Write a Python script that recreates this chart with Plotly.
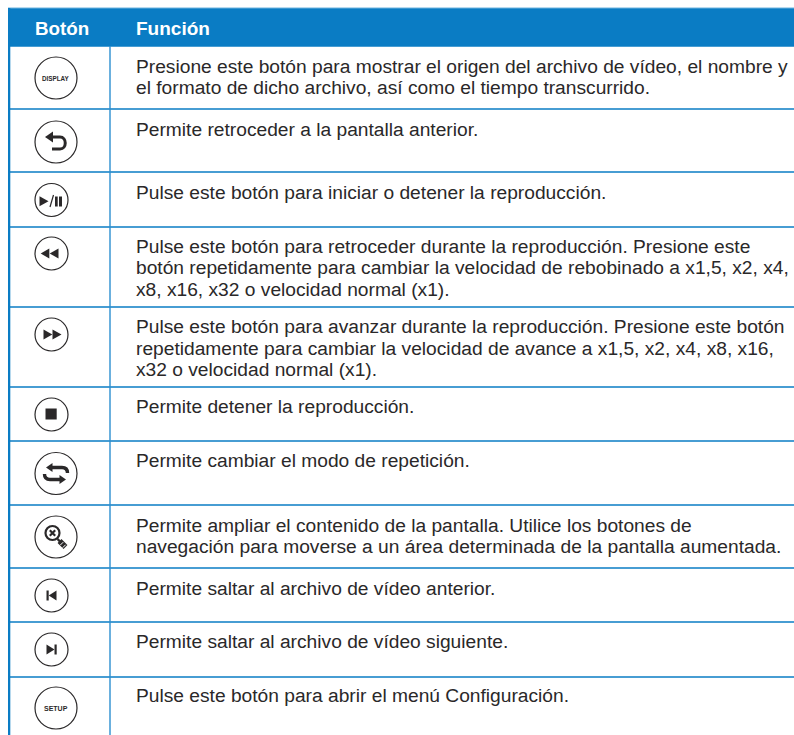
import plotly.graph_objects as go

header_labels = ["Botón", "Función"]
function_lines = [
    ["Presione este botón para mostrar el origen del archivo de vídeo, el nombre y",
     "el formato de dicho archivo, así como el tiempo transcurrido."],
    ["Permite retroceder a la pantalla anterior."],
    ["Pulse este botón para iniciar o detener la reproducción."],
    ["Pulse este botón para retroceder durante la reproducción. Presione este",
     "botón repetidamente para cambiar la velocidad de rebobinado a x1,5, x2, x4,",
     "x8, x16, x32 o velocidad normal (x1)."],
    ["Pulse este botón para avanzar durante la reproducción. Presione este botón",
     "repetidamente para cambiar la velocidad de avance a x1,5, x2, x4, x8, x16,",
     "x32 o velocidad normal (x1)."],
    ["Permite detener la reproducción."],
    ["Permite cambiar el modo de repetición."],
    ["Permite ampliar el contenido de la pantalla. Utilice los botones de",
     "navegación para moverse a un área determinada de la pantalla aumentada."],
    ["Permite saltar al archivo de vídeo anterior."],
    ["Permite saltar al archivo de vídeo siguiente."],
    ["Pulse este botón para abrir el menú Configuración."],
]
button_icons = ["display", "back", "playpause", "rewind", "forward", "stop",
                "repeat", "zoom", "prev", "next", "setup"]

W, H = 794, 735
BLUE = "#0a7cc4"
INK = "#2a2829"
row_rules = [46, 109, 172, 227, 307, 387, 441, 505, 568, 622, 677]
first_line_y = [66.6, 129.3, 192.6, 246.6, 326.9, 406.9, 460.9, 525.3, 588.6, 641.9, 695.3]
icon_cy = [78, 142, 200, 253.5, 334.5, 414.5, 473.5, 537, 595.5, 649.5, 708]
icon_r = [21, 21, 16.5, 16.5, 16.5, 16.5, 21, 21, 16.5, 16.5, 21]
LINE_H = 21.2
TEXT_X = 134.5

shapes, annotations = [], []


def rect(x0, y0, x1, y1, color):
    shapes.append(dict(type="rect", x0=x0, y0=y0, x1=x1, y1=y1,
                       fillcolor=color, line_width=0, layer="above"))


def poly(points, color=INK, cx=0, cy=0):
    d = "M" + " L".join(f"{cx+px},{cy+py}" for px, py in points) + " Z"
    shapes.append(dict(type="path", path=d, fillcolor=color, line_width=0, layer="above"))


def stroke(d, width, color=INK):
    shapes.append(dict(type="path", path=d, line=dict(color=color, width=width),
                       fillcolor="rgba(0,0,0,0)", layer="above"))


def label(x, y, text, size, color=INK, bold=False, anchor="left"):
    annotations.append(dict(x=x, y=y, text=f"<b>{text}</b>" if bold else text,
                            xref="x", yref="y", showarrow=False, xanchor=anchor,
                            yanchor="middle", borderpad=0,
                            font=dict(family="Liberation Sans", size=size, color=color)))


def circle(cx, cy, r, width=1.2, color=INK, fill="#ffffff"):
    shapes.append(dict(type="circle", x0=cx-r, x1=cx+r, y0=cy-r, y1=cy+r,
                       line=dict(color=color, width=width), fillcolor=fill, layer="above"))


def draw_icon(kind, cx, cy):
    if kind == "display":
        label(cx, cy, "DISPLAY", 6.3, bold=True, anchor="center")
    elif kind == "setup":
        label(cx, cy, "SETUP", 7, bold=True, anchor="center")
    elif kind == "back":
        poly([(-11, -5), (-3, -10.5), (-3, 0.5)], cx=cx, cy=cy)
        stroke(f"M{cx-4},{cy-5} L{cx+4},{cy-5} C{cx+11},{cy-5} {cx+11},{cy+7} {cx+4},{cy+7} L{cx-4},{cy+7}", 3)
    elif kind == "playpause":
        poly([(-12, -3.7), (-3, 1.3), (-12, 6.3)], cx=cx, cy=cy)
        stroke(f"M{cx-1.5},{cy+7} L{cx+2},{cy-5}", 1.2)
        rect(cx+3.5, cy-3.5, cx+6.2, cy+6.5, INK)
        rect(cx+7.5, cy-3.5, cx+10.5, cy+6.5, INK)
    elif kind == "rewind":
        poly([(-10.8, 0), (-2.2, -5), (-2.2, 5)], cx=cx, cy=cy)
        poly([(-1.8, 0), (7, -5), (7, 5)], cx=cx, cy=cy)
    elif kind == "forward":
        poly([(-8, -5), (-8, 5), (0.8, 0)], cx=cx, cy=cy)
        poly([(1, -5), (1, 5), (10, 0)], cx=cx, cy=cy)
    elif kind == "stop":
        rect(cx-6, cy-6, cx+5.2, cy+5, INK)
    elif kind == "prev":
        rect(cx-5, cy-5, cx-2.8, cy+5, INK)
        poly([(-2.8, 0), (5, -5), (5, 5)], cx=cx, cy=cy)
    elif kind == "next":
        poly([(-5, -5), (-5, 5), (3, 0)], cx=cx, cy=cy)
        rect(cx+3, cy-5, cx+5.2, cy+5, INK)
    elif kind == "repeat":
        poly([(-10, -6), (-3.5, -10.5), (-3.5, -1.5)], cx=cx, cy=cy)
        stroke(f"M{cx-4},{cy-6} L{cx+6},{cy-6} C{cx+10},{cy-6} {cx+11.5},{cy-4} {cx+11.5},{cy-0.5}", 3.4)
        stroke(f"M{cx-11.5},{cy+0.5} C{cx-11.5},{cy+4} {cx-10},{cy+6} {cx-6},{cy+6} L{cx+4},{cy+6}", 3.4)
        poly([(3.5, 1.5), (10, 6), (3.5, 10.5)], cx=cx, cy=cy)
    elif kind == "zoom":
        circle(cx-3.5, cy-4, 7, width=2.2)
        stroke(f"M{cx-6.2},{cy-6.7} L{cx-0.8},{cy-1.3} M{cx-0.8},{cy-6.7} L{cx-6.2},{cy-1.3}", 2.2)
        stroke(f"M{cx+1.5},{cy+2} L{cx+4},{cy+4.5}", 2.4)
        stroke(f"M{cx+3.5},{cy+4} L{cx+9.5},{cy+10}", 5.5)
        stroke(f"M{cx+4.2},{cy+8.2} L{cx+7.2},{cy+5.2} M{cx+6.7},{cy+10.7} L{cx+9.7},{cy+7.7}", 1, color="#ffffff")


rect(8, 8, W, 46, BLUE)
shapes.append(dict(type="line", x0=8, x1=W, y0=8, y1=8,
                   line=dict(color="#6db3de", width=1), layer="above"))
for y in row_rules:
    shapes.append(dict(type="line", x0=8, x1=W, y0=y, y1=y,
                       line=dict(color=BLUE, width=1.4), layer="above"))
rect(8, 8, 10.3, H, BLUE)
shapes.append(dict(type="line", x0=110, x1=110, y0=46, y1=H,
                   line=dict(color="#2b8fd0", width=1.4), layer="above"))

label(62, 28.5, header_labels[0], 18.8, color="#ffffff", bold=True, anchor="center")
label(TEXT_X, 28.5, header_labels[1], 19, color="#ffffff", bold=True)

for lines, y0, kind, cy, r in zip(function_lines, first_line_y, button_icons, icon_cy, icon_r):
    for i, line in enumerate(lines):
        label(TEXT_X, y0 + i * LINE_H, line, 19.2)
    cx = 56 if r > 20 else 51.5
    circle(cx, cy, r)
    draw_icon(kind, cx, cy)

fig = go.Figure()
fig.update_layout(
    width=W, height=H, margin=dict(l=0, r=0, t=0, b=0),
    paper_bgcolor="#ffffff", plot_bgcolor="#ffffff", showlegend=False,
    xaxis=dict(range=[0, W], visible=False, fixedrange=True),
    yaxis=dict(range=[H, 0], visible=False, fixedrange=True),
    shapes=shapes, annotations=annotations,
)
fig.write_html("out.html", config=dict(displayModeBar=False),
               post_script="document.body.style.margin='0';document.body.style.overflow='hidden';"
                           "document.documentElement.style.overflow='hidden';")
